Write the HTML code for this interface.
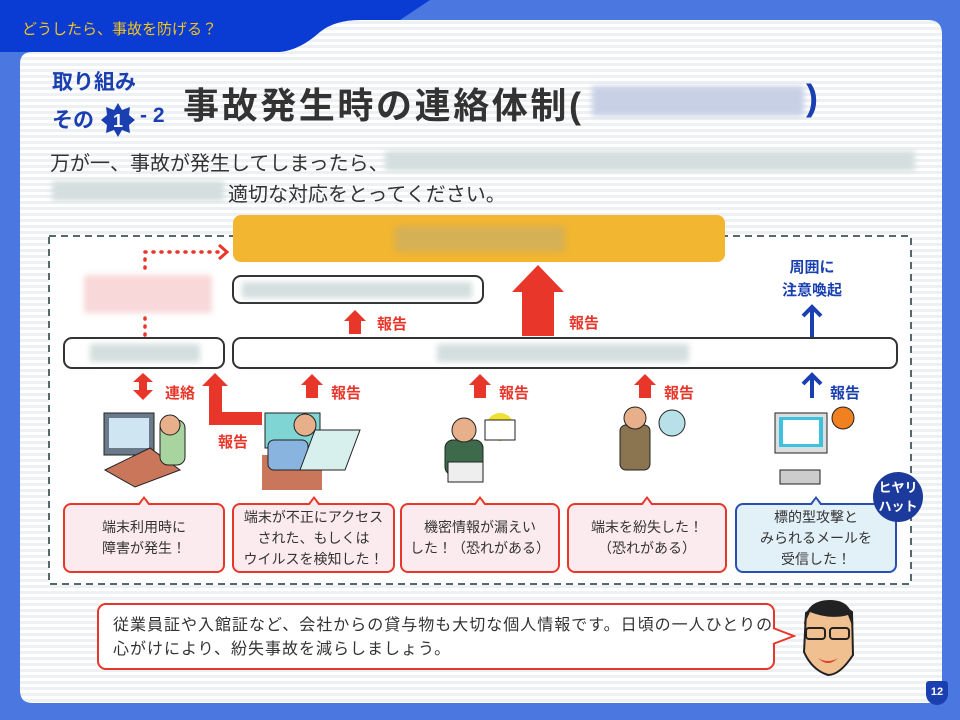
<!DOCTYPE html>
<html><head><meta charset="utf-8"><style>
*{margin:0;padding:0;box-sizing:border-box}
body{width:960px;height:720px;position:relative;overflow:hidden;background:#4a78e0;font-family:"Liberation Sans","Noto Sans CJK JP",sans-serif}
.a{position:absolute}
.blur{position:absolute;background:#d4dede;filter:blur(3px)}
.box{position:absolute;background:#fff;border:2px solid #333;border-radius:9px}
.red{color:#e8362a;font-weight:bold;font-size:15px}
.blue{color:#1a3fb0;font-weight:bold;font-size:15px}
.co{position:absolute;top:503px;height:70px;background:#fcebee;border:2px solid #e8362a;border-radius:8px;font-size:14px;color:#333;text-align:center;display:flex;align-items:center;justify-content:center;line-height:21px}
.co:before{content:"";position:absolute;top:-9px;left:50%;margin-left:-7px;border-left:7px solid transparent;border-right:7px solid transparent;border-bottom:9px solid #e8362a}
.co:after{content:"";position:absolute;top:-6px;left:50%;margin-left:-5px;border-left:5px solid transparent;border-right:5px solid transparent;border-bottom:7px solid #fcebee}
.co.b{background:#e2f0f8;border-color:#2a4fb0}
.co.b:before{border-bottom-color:#2a4fb0}.co.b:after{border-bottom-color:#e2f0f8}
</style></head><body>
<svg class="a" style="left:0;top:0" width="960" height="720">
<defs><pattern id="st" width="10" height="6" patternUnits="userSpaceOnUse"><rect width="10" height="6" fill="#fff"/><rect y="3" width="10" height="3" fill="#eef1f3"/></pattern></defs>
<path d="M0 0H430 L400 20 H360 Q335 20 320 32 Q300 50 280 52 H0Z" fill="#0a3cd4"/>
<path d="M32 52 H280 Q300 50 320 32 Q335 20 360 20 H928 Q942 20 942 34 V690 Q942 703 928 703 H32 Q20 703 20 690 V64 Q20 52 32 52Z" fill="url(#st)"/>
<rect x="49" y="236" width="862" height="348" fill="#fff" stroke="#55696b" stroke-width="2" stroke-dasharray="7 5"/>
<path d="M145 335 V318 M145 268 V252 H222" stroke="#e8362a" stroke-width="3.5" stroke-dasharray="1 7" stroke-linecap="round" fill="none"/>
<path d="M219 245 L227 252 L219 259" stroke="#e8362a" stroke-width="3" fill="none"/>
<path d="M538 265 L564 292 H554 V336 H522 V292 H512Z" fill="#e8362a"/>
<path d="M355 310 L366 321 H361 V334 H349 V321 H344Z" fill="#e8362a"/>
<g fill="#e8362a">
<path d="M312 374 L323 385 H318 V398 H306 V385 H301Z"/>
<path d="M480 374 L491 385 H486 V398 H474 V385 H469Z"/>
<path d="M645 374 L656 385 H651 V398 H639 V385 H634Z"/>
<path d="M143 373 L153 382 H147 V390 H153 L143 400 L133 390 H139 V382 H133Z"/>
<path d="M215 373 L228 386 H222 V412 H262 V425 H209 V386 H202Z"/>
</g>
<g stroke="#1a3fb0" stroke-width="4" fill="none"><path d="M812 337 V308 M803 316 L812 307 L821 316"/><path d="M812 398 V376 M803 384 L812 375 L821 384"/></g>
<g>
<rect x="104" y="413" width="50" height="42" fill="#6a7a8a" stroke="#222"/><rect x="109" y="418" width="40" height="30" fill="#cfe6f2"/>
<path d="M105 470 L150 448 L180 470 L135 487Z" fill="#c9765a" stroke="#222"/>
<rect x="160" y="420" width="25" height="45" rx="8" fill="#a8d4a0" stroke="#222"/><circle cx="170" cy="425" r="10" fill="#e8b08a" stroke="#222"/>
<rect x="265" y="413" width="55" height="35" fill="#7fd4d4" stroke="#222"/><rect x="262" y="455" width="60" height="35" fill="#c9765a"/>
<rect x="268" y="440" width="40" height="30" rx="6" fill="#8ab4e0" stroke="#222"/><circle cx="305" cy="425" r="11" fill="#e8b08a" stroke="#222"/>
<path d="M300 470 L315 430 L360 430 L345 470Z" fill="#d7f0ee" stroke="#222"/>
<circle cx="500" cy="427" r="14" fill="#f2e030"/><rect x="485" y="420" width="30" height="20" fill="#fff" stroke="#222"/>
<rect x="445" y="440" width="38" height="35" rx="8" fill="#3d6a4a" stroke="#222"/><circle cx="464" cy="430" r="12" fill="#e8b08a" stroke="#222"/><rect x="448" y="462" width="35" height="20" fill="#eee" stroke="#222"/>
<rect x="620" y="425" width="30" height="45" rx="6" fill="#8a7550" stroke="#222"/><circle cx="635" cy="418" r="11" fill="#e8b08a" stroke="#222"/><circle cx="672" cy="423" r="13" fill="#b8e0e8" stroke="#222"/>
<rect x="775" y="413" width="52" height="40" fill="#ddd" stroke="#222"/><rect x="779" y="417" width="44" height="30" fill="#3cc2e0"/><rect x="783" y="420" width="36" height="24" fill="#fff"/>
<rect x="780" y="470" width="40" height="14" fill="#ccc" stroke="#222"/><circle cx="843" cy="418" r="11" fill="#f08020" stroke="#222"/>
</g>
<path d="M806 613 Q828 596 852 612 L853 655 Q840 675 828 675 Q812 670 804 652Z" fill="#f0c090" stroke="#222" stroke-width="2"/>
<path d="M804 625 Q805 600 830 600 Q855 600 853 628 L848 615 Q830 620 810 612Z" fill="#222"/>
<rect x="806" y="628" width="19" height="11" rx="3" fill="none" stroke="#222" stroke-width="2"/><rect x="830" y="628" width="19" height="11" rx="3" fill="none" stroke="#222" stroke-width="2"/>
<path d="M818 658 Q828 664 838 658 Q828 668 818 658Z" fill="#e0402a"/>
</svg>
<div class="a" style="left:22px;top:18px;color:#f5c518;font-size:15px">どうしたら、事故を防げる？</div>
<div class="a" style="left:52px;top:66px;color:#1a3fb0;font-size:21px;font-weight:bold">取り組み</div>
<div class="a" style="left:52px;top:104px;color:#1a3fb0;font-size:21px;font-weight:bold">その</div>
<svg class="a" style="left:101px;top:103px" width="34" height="34"><path d="M17 0 L21 7 L29 4 L28 12 L34 17 L28 22 L29 30 L21 27 L17 34 L13 27 L5 30 L6 22 L0 17 L6 12 L5 4 L13 7Z" fill="#1a3fb0"/><text x="17" y="24" text-anchor="middle" fill="#fff" font-size="18" font-weight="bold" font-family="Liberation Sans">1</text></svg>
<div class="a" style="left:140px;top:104px;color:#1a3fb0;font-size:21px;font-weight:bold">- 2</div>
<div class="a" style="left:183px;top:77px;color:#333;font-size:36px;font-weight:bold;letter-spacing:2.6px">事故発生時の連絡体制(</div>
<div class="blur" style="left:592px;top:86px;width:212px;height:30px;background:#c8d0e6"></div>
<div class="a" style="left:806px;top:77px;color:#1a3fb0;font-size:36px;font-weight:bold">)</div>
<div class="a" style="left:50px;top:147px;color:#333;font-size:20px">万が一、事故が発生してしまったら、</div>
<div class="blur" style="left:385px;top:151px;width:530px;height:20px"></div>
<div class="blur" style="left:52px;top:181px;width:172px;height:20px"></div>
<div class="a" style="left:228px;top:178px;color:#333;font-size:20px">適切な対応をとってください。</div>
<div class="a" style="left:233px;top:215px;width:492px;height:47px;background:#f2b630;border-radius:8px"></div>
<div class="blur" style="left:395px;top:226px;width:170px;height:26px;background:#d6b055"></div>
<div class="blur" style="left:84px;top:275px;width:128px;height:38px;background:#f8d8d8"></div>
<div class="box" style="left:232px;top:275px;width:252px;height:29px"></div>
<div class="blur" style="left:242px;top:282px;width:230px;height:16px"></div>
<div class="box" style="left:63px;top:337px;width:162px;height:32px"></div>
<div class="blur" style="left:90px;top:344px;width:110px;height:18px"></div>
<div class="box" style="left:232px;top:337px;width:666px;height:32px"></div>
<div class="blur" style="left:437px;top:344px;width:252px;height:18px"></div>
<div class="a red" style="left:377px;top:313px">報告</div>
<div class="a red" style="left:569px;top:312px">報告</div>
<div class="a red" style="left:165px;top:382px">連絡</div>
<div class="a red" style="left:218px;top:431px">報告</div>
<div class="a red" style="left:331px;top:382px">報告</div>
<div class="a red" style="left:499px;top:382px">報告</div>
<div class="a red" style="left:664px;top:382px">報告</div>
<div class="a blue" style="left:830px;top:382px">報告</div>
<div class="a blue" style="left:772px;top:256px;width:80px;text-align:center;line-height:23px">周囲に<br>注意喚起</div>
<div class="co" style="left:63px;width:162px">端末利用時に<br>障害が発生！</div>
<div class="co" style="left:232px;width:163px">端末が不正にアクセス<br>された、もしくは<br>ウイルスを検知した！</div>
<div class="co" style="left:400px;width:160px">機密情報が漏えい<br>した！（恐れがある）</div>
<div class="co" style="left:567px;width:160px">端末を紛失した！<br>（恐れがある）</div>
<div class="co b" style="left:735px;width:162px">標的型攻撃と<br>みられるメールを<br>受信した！</div>
<div class="a" style="left:873px;top:472px;width:50px;height:50px;border-radius:50%;background:#1c3a9c;color:#fff;font-size:13px;font-weight:bold;text-align:center;line-height:19px;padding-top:6px">ヒヤリ<br>ハット</div>
<div class="a" style="left:97px;top:603px;width:678px;height:67px;background:#fff;border:2px solid #e8362a;border-radius:9px;font-size:16px;letter-spacing:1px;color:#333;padding:9px 14px;line-height:24px;white-space:nowrap">従業員証や入館証など、会社からの貸与物も大切な個人情報です。日頃の一人ひとりの<br>心がけにより、紛失事故を減らしましょう。</div>
<svg class="a" style="left:772px;top:626px" width="24" height="20"><path d="M1 2 L22 10 L1 18" fill="#fff" stroke="#e8362a" stroke-width="2"/></svg>
<div class="a" style="left:926px;top:681px;width:22px;height:24px;background:#1a3fb0;border-radius:3px 3px 11px 11px;color:#fff;font-size:11px;font-weight:bold;text-align:center;line-height:22px">12</div>
</body></html>
